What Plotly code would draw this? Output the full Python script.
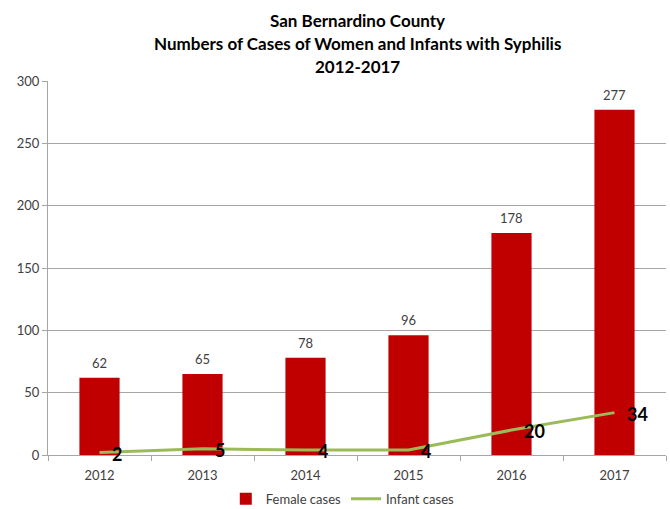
import plotly.graph_objects as go

years = ["2012", "2013", "2014", "2015", "2016", "2017"]
female_cases = [62, 65, 78, 96, 178, 277]
infant_cases = [2, 5, 4, 4, 20, 34]
title_lines = [
    "San Bernardino County",
    "Numbers of Cases of Women and Infants with Syphilis",
    "2012-2017",
]

FONT = "Lato"
TEXT_GREY = "#404040"
GRID = "#a6a6a6"

fig = go.Figure()

fig.add_trace(go.Bar(
    x=years, y=female_cases, name="Female cases",
    marker=dict(color="#c00000", line=dict(width=0)),
    width=0.39,
))

fig.add_trace(go.Scatter(
    x=years, y=infant_cases, name="Infant cases",
    mode="lines", line=dict(color="#9bbb59", width=3),
))

annotations = []
# value labels above the bars (category axis: positions by index)
for i, v in enumerate(female_cases):
    annotations.append(dict(
        x=i, y=v, xref="x", yref="y", text=str(v), showarrow=False,
        yanchor="bottom", yshift=5,
        font=dict(family=FONT, size=13, color=TEXT_GREY),
    ))
# bold value labels to the right of the infant line points
for i, v in enumerate(infant_cases):
    annotations.append(dict(
        x=i, y=v, xref="x", yref="y", text=f"<b>{v}</b>", showarrow=False,
        xanchor="left", yanchor="middle", xshift=10, yshift=-1,
        font=dict(family=FONT, size=18, color="#000000"),
    ))
# three-line title
for line, shift in zip(title_lines, [61, 38, 15]):
    annotations.append(dict(
        x=0.5, y=1, xref="paper", yref="paper", text=f"<b>{line}</b>",
        showarrow=False, xanchor="center", yanchor="middle", yshift=shift,
        font=dict(family=FONT, size=17, color="#000000"),
    ))

fig.update_layout(
    width=670, height=509,
    margin=dict(l=48, r=4, t=81, b=54, autoexpand=False),
    paper_bgcolor="white", plot_bgcolor="white",
    font=dict(family=FONT, size=12, color=TEXT_GREY),
    showlegend=True,
    legend=dict(
        orientation="h", x=0.477, xanchor="center", y=-0.117, yanchor="middle",
        font=dict(family=FONT, size=13, color=TEXT_GREY),
        itemwidth=30, tracegroupgap=0,
    ),
    annotations=annotations,
)

fig.update_xaxes(
    type="category", range=[-0.5, len(years) - 0.5], automargin=False,
    showgrid=False, showline=True, linecolor=GRID, linewidth=1,
    ticks="outside", tickson="boundaries", ticklen=5, tickcolor=GRID,
    ticklabelstandoff=8,
    tickfont=dict(family=FONT, size=13, color=TEXT_GREY),
)
fig.update_yaxes(
    range=[0, 300], dtick=50, showgrid=True, gridcolor=GRID, gridwidth=1,
    showline=True, linecolor=GRID, linewidth=1, zeroline=False, automargin=False,
    ticks="outside", ticklen=5, tickcolor=GRID,
    tickfont=dict(family=FONT, size=13, color=TEXT_GREY),
)

fig.write_html("out.html")
